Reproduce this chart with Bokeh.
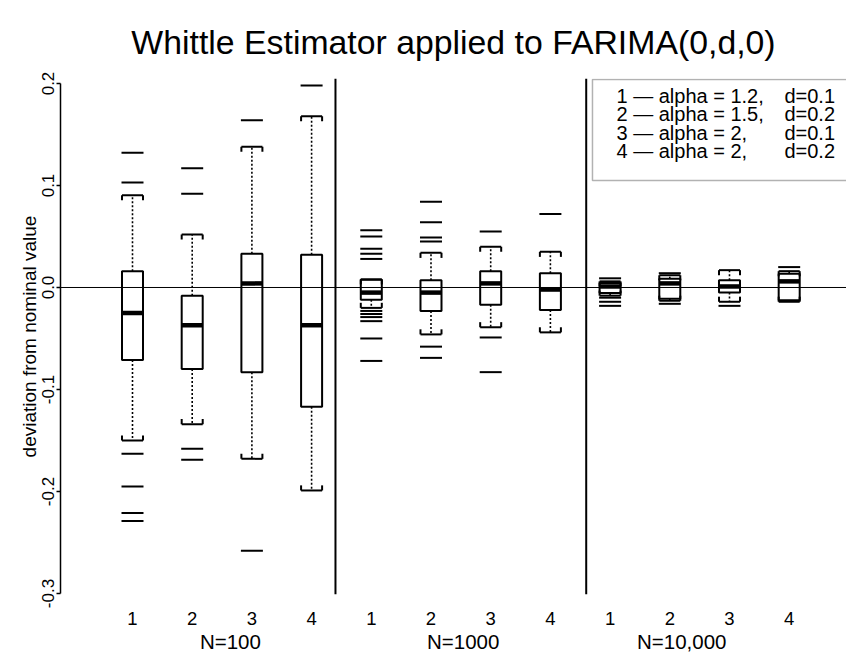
import numpy as np
from bokeh.plotting import figure
from bokeh.models import (FixedTicker, LinearAxis, Span, BoxAnnotation,
                          PrintfTickFormatter, Range1d)
from bokeh.core.properties import value
from bokeh.embed import file_html
from bokeh.resources import INLINE

# ---------------- data ----------------
title_text = "Whittle Estimator applied to FARIMA(0,d,0)"
y_label = "deviation from nominal value"
case_labels = ["1", "2", "3", "4"]
group_labels = ["N=100", "N=1000", "N=10,000"]
group_label_pos = [2.64, 6.54, 10.2]
separators = [4.4, 8.6]
legend_left = ["1 \u2014 alpha = 1.2,", "2 \u2014 alpha = 1.5,",
               "3 \u2014 alpha = 2,", "4 \u2014 alpha = 2,"]
legend_right = ["d=0.1", "d=0.2", "d=0.1", "d=0.2"]
y_ticks = [-0.3, -0.2, -0.1, 0.0, 0.1, 0.2]

positions = list(range(1, 13))
whisker_hi = [0.0905, 0.052, 0.138, 0.168, 0.008, 0.034, 0.040, 0.035, 0.006, 0.012, 0.017, 0.016]
q3 = [0.016, -0.008, 0.033, 0.032, 0.0075, 0.007, 0.016, 0.014, 0.0044, 0.0086, 0.007, 0.0135]
median = [-0.025, -0.037, 0.004, -0.037, -0.005, -0.005, 0.004, -0.002, 0.001, 0.004, 0.001, 0.006]
q1 = [-0.071, -0.080, -0.083, -0.117, -0.012, -0.023, -0.017, -0.022, -0.0054, -0.011, -0.005, -0.0125]
whisker_lo = [-0.150, -0.134, -0.168, -0.199, -0.020, -0.046, -0.039, -0.044, -0.008, -0.013, -0.014, -0.014]
outliers = [
    [0.132, 0.103, -0.163, -0.195, -0.221, -0.229],
    [0.117, 0.092, -0.158, -0.169],
    [0.164, -0.258],
    [0.198],
    [0.056, 0.050, 0.038, 0.033, 0.028, -0.023, -0.026, -0.029, -0.033, -0.050, -0.072],
    [0.084, 0.064, 0.049, 0.045, -0.058, -0.069],
    [0.055, -0.049, -0.083],
    [0.072],
    [0.009, -0.010, -0.014, -0.018],
    [0.014, -0.016],
    [-0.018],
    [0.020],
]

# ---------------- style / layout ----------------
FONT = "Liberation Sans"
HW = 0.176          # half box width (x units)
CAP_TICK = 0.005    # bracket tick length (y units)

pos = np.array(positions, dtype=float)
wh = np.array(whisker_hi); wl = np.array(whisker_lo)
q3a = np.array(q3); q1a = np.array(q1); meda = np.array(median)

p = figure(width=846, height=657,
           x_range=Range1d(-0.206, 12.96), y_range=Range1d(-0.301, 0.2049),
           toolbar_location=None, output_backend="svg",
           min_border_left=60, min_border_right=0,
           min_border_top=78, min_border_bottom=63)
p.outline_line_color = None
p.xgrid.grid_line_color = None
p.ygrid.grid_line_color = None
p.background_fill_color = "white"

p.title.text = title_text
p.title.text_font = FONT
p.title.text_font_size = "33.8px"
p.title.text_font_style = "normal"
p.title.text_color = "black"
p.title.align = "center"
p.title.standoff = 35

# zero line and group separators
p.add_layout(Span(location=0, dimension="width", line_color="black", line_width=1))
for s in separators:
    p.add_layout(Span(location=s, dimension="height", line_color="black", line_width=2))

# whiskers (dotted)
p.segment(x0=pos, x1=pos, y0=q3a, y1=wh, line_color="black", line_width=1.6, line_dash="2 2")
p.segment(x0=pos, x1=pos, y0=q1a, y1=wl, line_color="black", line_width=1.6, line_dash="2 2")

# caps (brackets)
p.segment(x0=pos - HW, x1=pos + HW, y0=wh, y1=wh, line_color="black", line_width=2)
p.segment(x0=pos - HW, x1=pos - HW, y0=wh, y1=wh - CAP_TICK, line_color="black", line_width=2)
p.segment(x0=pos + HW, x1=pos + HW, y0=wh, y1=wh - CAP_TICK, line_color="black", line_width=2)
p.segment(x0=pos - HW, x1=pos + HW, y0=wl, y1=wl, line_color="black", line_width=2)
p.segment(x0=pos - HW, x1=pos - HW, y0=wl, y1=wl + CAP_TICK, line_color="black", line_width=2)
p.segment(x0=pos + HW, x1=pos + HW, y0=wl, y1=wl + CAP_TICK, line_color="black", line_width=2)

# boxes and medians
p.quad(left=pos - HW, right=pos + HW, top=q3a, bottom=q1a,
       fill_color=None, line_color="black", line_width=2)
p.segment(x0=pos - HW, x1=pos + HW, y0=meda, y1=meda, line_color="black", line_width=4.5)

# outliers
ox = [positions[i] for i, lst in enumerate(outliers) for _ in lst]
oy = [v for lst in outliers for v in lst]
p.scatter(x=ox, y=oy, marker="dash", size=22, line_color="black", line_width=2)

# legend box with text
p.add_layout(BoxAnnotation(left=8.705, right=14.0, top=0.2039, bottom=0.1049,
                           fill_color=None, line_color="black", line_width=1.5))
leg_y = [0.1877, 0.1698, 0.1518, 0.1339]
p.text(x=[9.107] * 4, y=leg_y, text=legend_left, text_font=value(FONT),
       text_font_size="20px", text_baseline="middle", text_align="left", text_color="black")
p.text(x=[11.92] * 4, y=leg_y, text=legend_right, text_font=value(FONT),
       text_font_size="20px", text_baseline="middle", text_align="left", text_color="black")

# y axis
ya = p.yaxis[0]
ya.ticker = FixedTicker(ticks=y_ticks)
ya.formatter = PrintfTickFormatter(format="%.1f")
ya.bounds = (-0.3, 0.2)
ya.major_label_orientation = "vertical"
ya.major_label_text_font = FONT
ya.major_label_text_font_size = "17px"
ya.major_label_text_color = "black"
ya.major_label_standoff = 2
ya.major_tick_out = 4
ya.major_tick_in = 0
ya.minor_tick_line_color = None
ya.axis_line_width = 1.5
ya.major_tick_line_width = 1.5
ya.axis_label = y_label
ya.axis_label_text_font = FONT
ya.axis_label_text_font_size = "19px"
ya.axis_label_text_font_style = "normal"
ya.axis_label_text_color = "black"
ya.axis_label_standoff = 0

# x axis: case numbers
xa = p.xaxis[0]
xa.ticker = FixedTicker(ticks=positions)
xa.major_label_overrides = {i: case_labels[(i - 1) % 4] for i in positions}
xa.axis_line_color = None
xa.major_tick_line_color = None
xa.minor_tick_line_color = None
xa.major_tick_out = 0
xa.major_tick_in = 0
xa.major_label_standoff = 17
xa.major_label_text_font = FONT
xa.major_label_text_font_size = "18.5px"
xa.major_label_text_color = "black"

# second x axis: sample sizes
xb = LinearAxis(ticker=FixedTicker(ticks=group_label_pos),
                major_label_overrides={v: t for v, t in zip(group_label_pos, group_labels)})
xb.axis_line_color = None
xb.major_tick_line_color = None
xb.minor_tick_line_color = None
xb.major_tick_out = 0
xb.major_tick_in = 0
xb.major_label_standoff = 2
xb.major_label_text_font = FONT
xb.major_label_text_font_size = "20.5px"
xb.major_label_text_color = "black"
p.add_layout(xb, "below")

open("out.html", "w").write(file_html(p, INLINE))
